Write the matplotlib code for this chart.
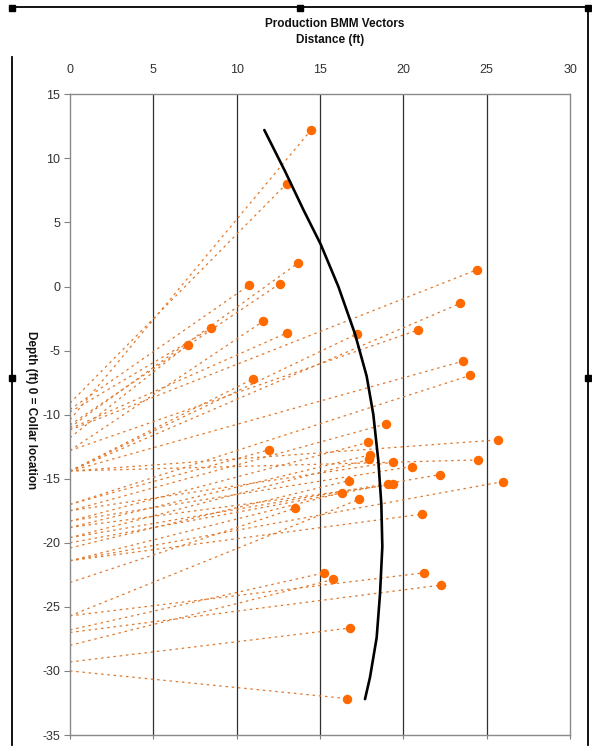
import matplotlib
matplotlib.use("Agg")
import matplotlib.pyplot as plt
from matplotlib.lines import Line2D
from matplotlib.patches import Rectangle

plt.rcParams['font.family'] = ['Liberation Sans', 'DejaVu Sans']

# BMM vector end points (distance ft, depth ft)
dot_x = [14.46, 13.0, 13.7, 10.76, 12.6, 8.46, 7.06, 11.6, 13.0, 11.0,
         11.94, 13.5, 17.2, 24.4, 23.4, 20.86, 23.56, 24.0, 18.96, 17.9,
         25.7, 18.0, 17.96, 19.4, 24.5, 20.5, 22.2, 16.76, 26.0, 19.1,
         19.4, 16.3, 17.36, 21.1, 15.26, 15.8, 21.26, 22.26, 16.8, 16.64]
dot_y = [12.21, 8.03, 1.85, 0.11, 0.23, -3.27, -4.57, -2.70, -3.63, -7.2,
         -12.75, -17.3, -3.71, 1.30, -1.32, -3.40, -5.83, -6.94, -10.73, -12.16,
         -11.97, -13.14, -13.5, -13.7, -13.53, -14.05, -14.68, -15.14, -15.22, -15.45,
         -15.45, -16.1, -16.6, -17.77, -22.34, -22.86, -22.34, -23.3, -26.65, -32.16]
# vector start depths at the collar line (distance 0)
start_y = [-10.4, -9.1, -11.0, -9.6, -10.8, -9.8, -11.8, -12.8, -11.1, -14.4,
           -17.0, -23.1, -14.4, -11.2, -14.4, -12.8, -14.4, -17.0, -17.5, -18.3,
           -14.4, -18.8, -19.6, -17.5, -14.4, -18.3, -19.6, -20.4, -21.4, -20.0,
           -18.8, -21.4, -25.7, -21.4, -26.8, -28.0, -25.7, -27.0, -29.3, -30.0]
start_x = [0.0] * len(start_y)

# borehole trace
well_x = [11.66, 12.9, 14.0, 15.04, 16.1, 17.1, 17.8, 18.2, 18.5, 18.68, 18.74, 18.6, 18.4, 18.0, 17.7]
well_y = [12.21, 9.0, 6.0, 3.3, 0.0, -3.7, -7.0, -10.0, -13.6, -17.0, -20.3, -24.0, -27.4, -30.5, -32.2]

x_ticks = [0, 5, 10, 15, 20, 25, 30]
y_ticks = [15, 10, 5, 0, -5, -10, -15, -20, -25, -30, -35]

W, H = 592, 750
fig = plt.figure(figsize=(W / 100, H / 100), dpi=100)
ax = fig.add_axes([70 / W, 1 - 735 / H, 500 / W, (735 - 94.3) / H])

for gx in [5, 10, 15, 20, 25]:
    ax.axvline(gx, color='#303030', lw=0.9, zorder=1)

for sx, sy, dx, dy in zip(start_x, start_y, dot_x, dot_y):
    ax.plot([sx, dx], [sy, dy], color='#E07A2E', lw=0.9, ls=(0, (2.0, 3.0)), zorder=2)

ax.plot(dot_x, dot_y, 'o', color='#FF6A00', ms=5.8, mec='#FF6A00', zorder=3, ls='none')
ax.plot(well_x, well_y, color='black', lw=1.9, zorder=4, solid_capstyle='round')

ax.set_xlim(0, 30)
ax.set_ylim(-35, 15)
ax.set_xticks(x_ticks)
ax.set_yticks(y_ticks)
ax.set_xticklabels([str(t) for t in x_ticks])
ax.set_yticklabels([str(t) for t in y_ticks])
ax.tick_params(axis='x', top=False, bottom=True, labeltop=True, labelbottom=False,
               direction='out', length=3, color='#808080', labelsize=9, labelcolor='#333333', pad=10)
ax.tick_params(axis='y', left=True, right=False, direction='out', length=4,
               color='#808080', labelsize=9, labelcolor='#333333', pad=3)
for s in ['left', 'bottom', 'top', 'right']:
    ax.spines[s].set_color('#8a8a8a')
    ax.spines[s].set_linewidth(1.0)

fig.text(335 / W, 1 - 24 / H, 'Production BMM Vectors', ha='center', va='center',
         fontsize=8.5, fontweight='bold', color='#111111')
fig.text(330 / W, 1 - 40 / H, 'Distance (ft)', ha='center', va='center',
         fontsize=8.5, fontweight='bold', color='#111111')
fig.text(31 / W, 1 - 410 / H, 'Depth (ft) 0 = Collar location', ha='center', va='center',
         rotation=270, fontsize=8.5, fontweight='bold', color='#111111')

# outer chart frame with selection handles
lw = 1.3
fig.add_artist(Line2D([12 / W, 588 / W], [1 - 7 / H, 1 - 7 / H], color='black', lw=lw))
fig.add_artist(Line2D([12 / W, 12 / W], [1 - 57 / H, 1 - 745 / H], color='black', lw=lw))
fig.add_artist(Line2D([588 / W, 588 / W], [1 - 7 / H, 1 - 745 / H], color='black', lw=lw))
for hx, hy in [(12, 8), (300, 8), (588, 8), (12, 378), (588, 378)]:
    fig.add_artist(Rectangle(((hx - 3) / W, 1 - (hy + 3) / H), 6 / W, 6 / H,
                             color='black', transform=fig.transFigure))

fig.savefig('out.png', dpi=100)
